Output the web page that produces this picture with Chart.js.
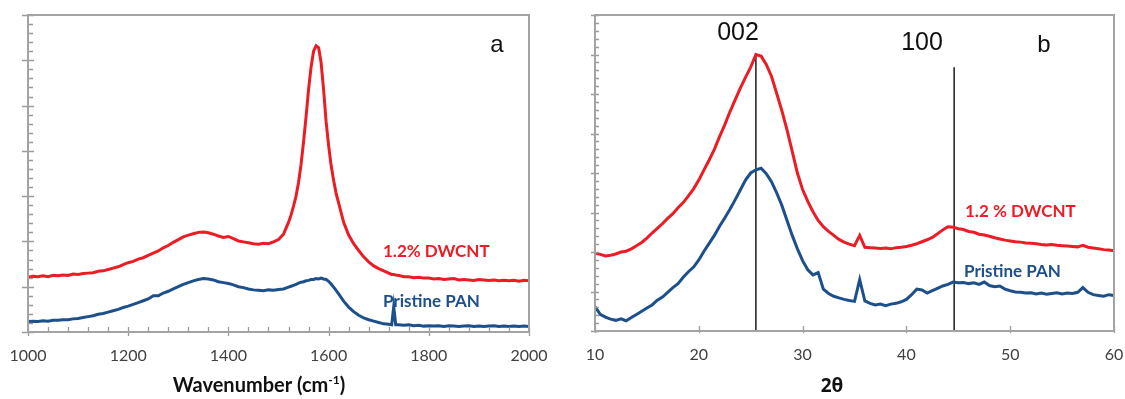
<!DOCTYPE html>
<html><head><meta charset="utf-8">
<script src="https://cdn.jsdelivr.net/npm/chart.js@4"></script>
<style>
html,body{margin:0;padding:0;background:#fff;width:1125px;height:399px;overflow:hidden}
#wa{position:absolute;left:0;top:0;width:560px;height:399px}
#wb{position:absolute;left:560px;top:0;width:565px;height:399px}
</style></head><body>
<div id="wa"><canvas id="ca" width="560" height="399"></canvas></div>
<div id="wb"><canvas id="cb" width="565" height="399"></canvas></div>
<script>
// ---------- Panel a: Raman ----------
const ramanWavenumber = [
1000,1010,1020,1030,1040,1050,1060,1070,1080,1090,
1100,1110,1120,1130,1140,1150,1160,1170,1180,1190,
1200,1210,1220,1230,1240,1250,1260,1270,1280,1290,
1300,1310,1320,1330,1340,1350,1360,1370,1380,1390,
1400,1410,1420,1430,1440,1450,1460,1470,1480,1490,
1500,1510,1520,1525,1530,1535,1540,1545,1550,1555,
1560,1565,1570,1575,1580,1585,1590,1595,1600,1605,
1610,1615,1620,1630,1640,1650,1660,1670,1680,1690,
1700,1710,1720,1726,1730,1734,1740,1750,1760,1770,
1780,1790,1800,1810,1820,1830,1840,1850,1860,1870,
1880,1890,1900,1910,1920,1930,1940,1950,1960,1970,
1980,1990,2000];
const ramanDwcnt = [
1.21,1.23,1.22,1.24,1.22,1.25,1.24,1.26,1.25,1.28,
1.27,1.29,1.30,1.31,1.34,1.35,1.38,1.41,1.44,1.49,
1.53,1.56,1.61,1.64,1.69,1.74,1.79,1.86,1.91,1.98,
2.04,2.10,2.14,2.17,2.20,2.21,2.19,2.16,2.12,2.09,
2.11,2.06,2.01,1.99,1.97,1.95,1.94,1.96,1.95,1.99,
2.04,2.16,2.42,2.58,2.78,3.00,3.30,3.70,4.20,4.75,
5.35,5.85,6.20,6.32,6.28,5.95,5.35,4.65,4.12,3.68,
3.35,3.06,2.85,2.42,2.14,1.95,1.80,1.66,1.55,1.46,
1.40,1.35,1.30,1.27,1.27,1.26,1.25,1.22,1.22,1.20,
1.21,1.19,1.19,1.17,1.18,1.16,1.17,1.18,1.15,1.16,
1.15,1.14,1.16,1.15,1.14,1.15,1.13,1.14,1.13,1.14,
1.12,1.14,1.13];
const ramanPan = [
0.23,0.24,0.23,0.25,0.24,0.26,0.26,0.27,0.27,0.29,
0.30,0.32,0.34,0.36,0.39,0.41,0.44,0.47,0.50,0.54,
0.57,0.61,0.65,0.69,0.73,0.80,0.80,0.86,0.90,0.95,
1.00,1.05,1.09,1.13,1.16,1.18,1.17,1.15,1.11,1.09,
1.07,1.04,1.00,0.98,0.95,0.93,0.92,0.91,0.93,0.92,
0.94,0.95,0.99,1.01,1.03,1.05,1.08,1.10,1.11,1.13,
1.14,1.16,1.16,1.18,1.17,1.19,1.17,1.16,1.12,1.06,
0.99,0.92,0.84,0.68,0.55,0.45,0.37,0.31,0.27,0.24,
0.21,0.18,0.17,0.16,0.56,0.16,0.16,0.15,0.16,0.14,
0.15,0.13,0.14,0.13,0.14,0.12,0.14,0.13,0.12,0.13,
0.14,0.12,0.13,0.12,0.13,0.14,0.12,0.13,0.12,0.13,
0.12,0.13,0.12];
const ramanTickLabels = [1000,1200,1400,1600,1800,2000];

// ---------- Panel b: XRD ----------
const xrdAngle = [
10,10.5,11,11.5,12,12.5,13,13.5,14,14.5,
15,15.5,16,16.5,17,17.5,18,18.5,19,19.5,
20,20.5,21,21.5,22,22.5,23,23.5,24,24.5,
25,25.5,26,26.5,27,27.5,28,28.5,29,29.5,
30,30.5,31,31.5,32,32.5,33,33.5,34,34.5,
35,35.5,36,36.5,37,37.5,38,38.5,39,39.5,
40,40.5,41,41.5,42,42.5,43,43.5,44,44.5,
45,45.5,46,46.5,47,47.5,48,48.5,49,49.5,
50,50.5,51,51.5,52,52.5,53,53.5,54,54.5,
55,55.5,56,56.5,57,57.5,58,58.5,59,59.5,
60];
const xrdDwcnt = [
1.97,1.94,1.90,1.92,1.95,2.00,2.02,2.08,2.16,2.24,
2.35,2.48,2.60,2.72,2.85,2.97,3.12,3.25,3.42,3.60,
3.82,4.08,4.33,4.60,4.92,5.22,5.55,5.85,6.15,6.42,
6.68,7.00,6.96,6.75,6.45,6.02,5.58,5.09,4.55,4.00,
3.58,3.28,3.02,2.80,2.64,2.52,2.42,2.32,2.25,2.20,
2.16,2.42,2.12,2.11,2.10,2.09,2.10,2.08,2.11,2.12,
2.14,2.17,2.21,2.26,2.31,2.37,2.46,2.56,2.64,2.63,
2.59,2.57,2.52,2.50,2.45,2.43,2.40,2.36,2.33,2.30,
2.28,2.26,2.25,2.23,2.22,2.21,2.19,2.18,2.19,2.17,
2.16,2.15,2.14,2.13,2.17,2.12,2.10,2.08,2.06,2.05,
2.03];
const xrdPan = [
0.62,0.42,0.35,0.30,0.27,0.31,0.26,0.34,0.42,0.50,
0.58,0.66,0.78,0.86,0.98,1.10,1.20,1.36,1.50,1.62,
1.80,2.02,2.22,2.42,2.65,2.86,3.08,3.32,3.57,3.82,
4.00,4.08,4.12,3.98,3.78,3.50,3.18,2.80,2.42,2.08,
1.78,1.55,1.42,1.48,1.06,0.95,0.88,0.84,0.80,0.77,
0.75,1.30,0.76,0.70,0.66,0.68,0.64,0.68,0.70,0.74,
0.80,0.92,1.06,1.04,0.96,1.02,1.08,1.14,1.18,1.24,
1.22,1.23,1.20,1.22,1.18,1.24,1.15,1.12,1.14,1.06,
1.02,0.99,0.98,0.96,0.97,0.94,0.96,0.93,0.95,0.97,
0.94,0.96,0.95,0.98,1.10,0.98,0.92,0.90,0.88,0.92,
0.90];
const xrdTickLabels = [10,20,30,40,50,60];
const xrdPeakNames = ['002','100'];
const xrdPeakAngle = [25.5, 44.6];
const xrdPeakLineTop = [7.04, 6.68];

const RED = '#ec1c24', BLUE = '#1d4f8b';
const TICKFONT = {family:"Lato, 'Open Sans', sans-serif", size:16};
const LABELFONT = "bold 17px Lato, 'Open Sans', sans-serif";

function pts(xs, ys){ return xs.map((v,i)=>({x:v, y:ys[i]})); }

const tickMarks = {
  id:'tickMarks',
  afterDatasetsDraw(chart, args, o){
    const {ctx, chartArea:a, scales:{x,y}} = chart;
    ctx.save();
    ctx.strokeStyle = o.color; ctx.lineWidth = o.tickWidth;
    ctx.beginPath();
    const nY = Math.round((y.max-y.min)/o.yMinor), perY = Math.round(o.yMajor/o.yMinor);
    for (let i=0;i<=nY;i++){
      const py = Math.round(y.getPixelForValue(y.min+i*o.yMinor))+0.5;
      const major = i%perY===0;
      ctx.moveTo(a.left-(major?o.yOut:0), py);
      ctx.lineTo(a.left+(major?o.yInMajor:o.yInMinor), py);
    }
    const nX = Math.round((x.max-x.min)/o.xMinor), perX = Math.round(o.xMajor/o.xMinor);
    for (let i=0;i<=nX;i++){
      const px = Math.round(x.getPixelForValue(x.min+i*o.xMinor))+0.5;
      const major = i%perX===0;
      ctx.moveTo(px, a.bottom+(major?o.xOut:0));
      ctx.lineTo(px, a.bottom-(major?o.xInMajor:o.xInMinor));
    }
    ctx.stroke();
    ctx.lineWidth = o.frameWidth; ctx.strokeStyle = o.frameColor;
    ctx.strokeRect(a.left, a.top, a.right-a.left, a.bottom-a.top);
    ctx.restore();
  }
};

const textLabels = {
  id:'textLabels',
  afterDraw(chart, args, o){
    const ctx = chart.ctx;
    ctx.save();
    ctx.textBaseline = 'middle';
    for (const t of o.items){
      ctx.font = t.font; ctx.fillStyle = t.color; ctx.textAlign = t.align || 'left';
      ctx.fillText(t.text, t.x, t.y);
    }
    if (o.title){
      const T = o.title;
      let w = 0;
      for (const p of T.parts){ ctx.font = p.font; w += ctx.measureText(p.text).width; }
      let cx = T.x - w/2;
      ctx.textAlign = 'left'; ctx.fillStyle = T.color;
      for (const p of T.parts){
        ctx.font = p.font;
        ctx.fillText(p.text, cx, T.y + (p.dy||0));
        cx += ctx.measureText(p.text).width;
      }
    }
    ctx.restore();
  }
};

function lineDs(data, color){
  return {data, borderColor:color, backgroundColor:color, borderWidth:3, pointRadius:0, tension:0, fill:false};
}
function fixScale(h){
  return s => { s.height = h; s.paddingLeft = 0; s.paddingRight = 0; };
}

// Panel a
new Chart(document.getElementById('ca'), {
  type:'line',
  data:{datasets:[ lineDs(pts(ramanWavenumber, ramanDwcnt), RED), lineDs(pts(ramanWavenumber, ramanPan), BLUE) ]},
  options:{
    responsive:false, animation:false, devicePixelRatio:1,
    layout:{padding:{left:28,right:31,top:15,bottom:0}},
    plugins:{legend:{display:false}, tooltip:{enabled:false},
      tickMarks:{color:'#9a9a9a', tickWidth:1.3, frameColor:'#a3a3a3', frameWidth:2,
        yMajor:1, yMinor:0.2, yOut:6, yInMajor:6, yInMinor:5,
        xMajor:200, xMinor:40, xOut:4, xInMajor:5, xInMinor:5},
      textLabels:{
        items:[
          {text:'1.2% DWCNT', x:383, y:252, color:RED, font:LABELFONT},
          {text:'Pristine PAN', x:383, y:302, color:BLUE, font:LABELFONT},
          {text:'a', x:497, y:45, color:'#111', font:"24px 'Liberation Sans', Arial, sans-serif", align:'center'}
        ],
        title:{x:259, y:386, color:'#111', parts:[
          {text:'Wavenumber (cm', font:"bold 20px Lato, 'Open Sans', sans-serif"},
          {text:'-1', font:"bold 12px Lato, 'Open Sans', sans-serif", dy:-6},
          {text:')', font:"bold 20px Lato, 'Open Sans', sans-serif"}
        ]}
      }
    },
    scales:{
      x:{type:'linear', min:1000, max:2000,
        afterBuildTicks:s=>{ s.ticks = ramanTickLabels.map(v=>({value:v})); },
        afterFit:fixScale(67),
        grid:{display:false, drawTicks:false}, border:{display:false},
        ticks:{color:'#404040', font:TICKFONT, padding:14, maxRotation:0, autoSkip:false, callback:v=>String(v)}},
      y:{type:'linear', min:0, max:7, display:false}
    }
  },
  plugins:[tickMarks, textLabels]
});

// Panel b
const peakDatasets = xrdPeakAngle.map((a,i)=>({
  data:[{x:a,y:0},{x:a,y:xrdPeakLineTop[i]}], borderColor:'#1a1a1a', borderWidth:1.5, pointRadius:0, fill:false
}));
new Chart(document.getElementById('cb'), {
  type:'line',
  data:{datasets:[ lineDs(pts(xrdAngle, xrdDwcnt), RED), lineDs(pts(xrdAngle, xrdPan), BLUE), ...peakDatasets ]},
  options:{
    responsive:false, animation:false, devicePixelRatio:1,
    layout:{padding:{left:35,right:11,top:15,bottom:0}},
    plugins:{legend:{display:false}, tooltip:{enabled:false},
      tickMarks:{color:'#9a9a9a', tickWidth:1.3, frameColor:'#a3a3a3', frameWidth:2,
        yMajor:1, yMinor:0.2, yOut:4, yInMajor:4, yInMinor:4,
        xMajor:10, xMinor:10, xOut:2, xInMajor:5, xInMinor:5},
      textLabels:{
        items:[
          {text:'1.2 % DWCNT', x:405, y:212, color:RED, font:LABELFONT},
          {text:'Pristine PAN', x:404, y:272, color:BLUE, font:LABELFONT},
          {text:'b', x:484, y:45, color:'#111', font:"24px 'Liberation Sans', Arial, sans-serif", align:'center'},
          {text:xrdPeakNames[0], x:178, y:33, color:'#111', font:"25px 'Liberation Sans', Arial, sans-serif", align:'center'},
          {text:xrdPeakNames[1], x:362, y:43, color:'#111', font:"25px 'Liberation Sans', Arial, sans-serif", align:'center'}
        ],
        title:{x:272, y:387, color:'#111', parts:[
          {text:'2θ', font:"bold 19px 'Open Sans', 'Noto Sans', sans-serif"}
        ]}
      }
    },
    scales:{
      x:{type:'linear', min:10, max:60,
        afterBuildTicks:s=>{ s.ticks = xrdTickLabels.map(v=>({value:v})); },
        afterFit:fixScale(68),
        grid:{display:false, drawTicks:false}, border:{display:false},
        ticks:{color:'#404040', font:TICKFONT, padding:14, maxRotation:0, autoSkip:false, callback:v=>String(v)}},
      y:{type:'linear', min:0, max:8, display:false}
    }
  },
  plugins:[tickMarks, textLabels]
});
</script>
</body></html>
